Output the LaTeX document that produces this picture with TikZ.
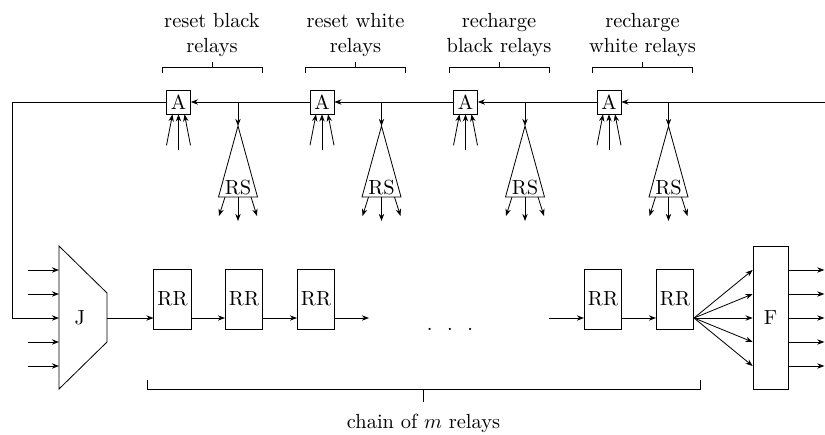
\documentclass[tikz,border=0pt]{standalone}
\usepackage{amsmath}
\usepackage{tikz}
\usetikzlibrary{arrows.meta, calc}
\tikzset{
  %% -- gate box on the control line --
  ctl/and/.style={draw, minimum size=0.41cm, inner sep=1pt},
  %% -- relay box of the chain --
  ctl/rr/.style={
    draw, minimum width=0.64cm, minimum height=1.03cm, inner sep=1pt
  },
  %% -- fan-out box --
  ctl/fan/.style={
    draw, minimum width=0.6cm, minimum height=2.46cm, inner sep=1pt
  },
  %% -- plain arrow --
  ctl/arr/.style={-{Stealth[length=3.5pt]}},
  %% -- group label --
  ctl/lbl/.style={align=center, inner sep=2.6pt},
}
\begin{document}
\begin{tikzpicture}[
  x=0.0172cm, y=-0.0172cm,
]
\useasboundingbox (0,0) rectangle (825,434);

%% Gates on the control line
\node[ctl/and] (a1) at (178.5,102) {A};
\node[ctl/and] (a2) at (322,102)   {A};
\node[ctl/and] (a3) at (465.5,102) {A};
\node[ctl/and] (a4) at (609,102)   {A};

%% Free ends of the control line
\coordinate (ctl-in)  at (825,102);
\coordinate (ctl-bnd) at (12,102);

%% Each unit: gate inputs, RS tree, bracket and label
\foreach \x/\i/\txt in {
  178.5/1/{reset black\\relays},
  322/2/{reset white\\relays},
  465.5/3/{recharge\\black relays},
  609/4/{recharge\\white relays}} {
  %% inputs into the gate
  \draw[ctl/arr] ($(a\i.south)+(-12,31)$) -- ($(a\i.south)+(-6,0)$);
  \draw[ctl/arr] ($(a\i.south)+(0,36)$)   -- (a\i.south);
  \draw[ctl/arr] ($(a\i.south)+(12,31)$)  -- ($(a\i.south)+(6,0)$);
  %% RS tree
  \coordinate (tap\i)  at (\x+59.5,102);
  \coordinate (rs\i-top) at (\x+59.5,126);
  \draw (rs\i-top) -- (\x+40,197) -- (\x+79,197) -- cycle;
  \node[anchor=base, inner sep=0] (rs\i) at (\x+59.5,194.5) {RS};
  \draw[ctl/arr] (tap\i) -- (rs\i-top);
  \draw[ctl/arr] (\x+46.5,197) -- (\x+40.5,216);
  \draw[ctl/arr] (\x+59.5,197) -- (\x+59.5,221);
  \draw[ctl/arr] (\x+72.5,197) -- (\x+78.5,216);
  %% bracket with label
  \draw (\x-16.5,73) -- (\x-16.5,67) -- (\x+83.5,67) -- (\x+83.5,73);
  \draw (\x+33.5,67) -- (\x+33.5,62) coordinate (brk\i);
  \node[ctl/lbl, above] (lbl\i) at (brk\i) {\txt};
}

%% Control line, right to left, back into J
\draw[ctl/arr] (ctl-in) -- (a4);
\draw[ctl/arr] (a4) -- (a3);
\draw[ctl/arr] (a3) -- (a2);
\draw[ctl/arr] (a2) -- (a1);

%% J
\draw (59,246) -- (107,293) -- (107,342) -- (59,389) -- cycle;
\node (j) at (80,318) {J};
\coordinate (j-in)  at (59,318);
\coordinate (j-out) at (107,318);
\draw[ctl/arr] (a1) -- (ctl-bnd) |- (j-in);
\foreach \y in {-48,-24,24,48}
  \draw[ctl/arr] ($(j-in)+(-31,\y)$) -- ($(j-in)+(0,\y)$);

%% Relay chain
\node[ctl/rr] (rr1) at (172.5,299) {RR};
\node[ctl/rr] (rr2) at (244,299)   {RR};
\node[ctl/rr] (rr3) at (316,299)   {RR};
\node[ctl/rr] (rr4) at (603,299)   {RR};
\node[ctl/rr] (rr5) at (675,299)   {RR};
\coordinate (gap-l) at (369,318);
\coordinate (gap-r) at (549,318);
\node[anchor=base, inner sep=0] (dots) at (450,330.5)
  {.\hspace{2.5mm}.\hspace{2.5mm}.};

\draw[ctl/arr] (j-out) -- (rr1.west |- j-out);
\draw[ctl/arr] (rr1.east |- j-out) -- (rr2.west |- j-out);
\draw[ctl/arr] (rr2.east |- j-out) -- (rr3.west |- j-out);
\draw[ctl/arr] (rr3.east |- j-out) -- (gap-l);
\draw[ctl/arr] (gap-r) -- (rr4.west |- j-out);
\draw[ctl/arr] (rr4.east |- j-out) -- (rr5.west |- j-out);

%% F
\node[ctl/fan] (f) at (770.5,318) {F};
\foreach \y in {-48,-24,0,24,48} {
  \draw[ctl/arr] (rr5.east |- j-out) -- ($(f.west)+(0,\y)$);
  \draw[ctl/arr] ($(f.east)+(0,\y)$) -- ($(f.east)+(36,\y)$);
}

%% Bracket under the chain
\draw (147,380) -- (147,389) -- (700,389) -- (700,380);
\draw (423.5,389) -- (423.5,402) coordinate (chain);
\node[below, inner sep=5.5pt] (chain-lbl) at (chain) {chain of $m$ relays};
\end{tikzpicture}
\end{document}
